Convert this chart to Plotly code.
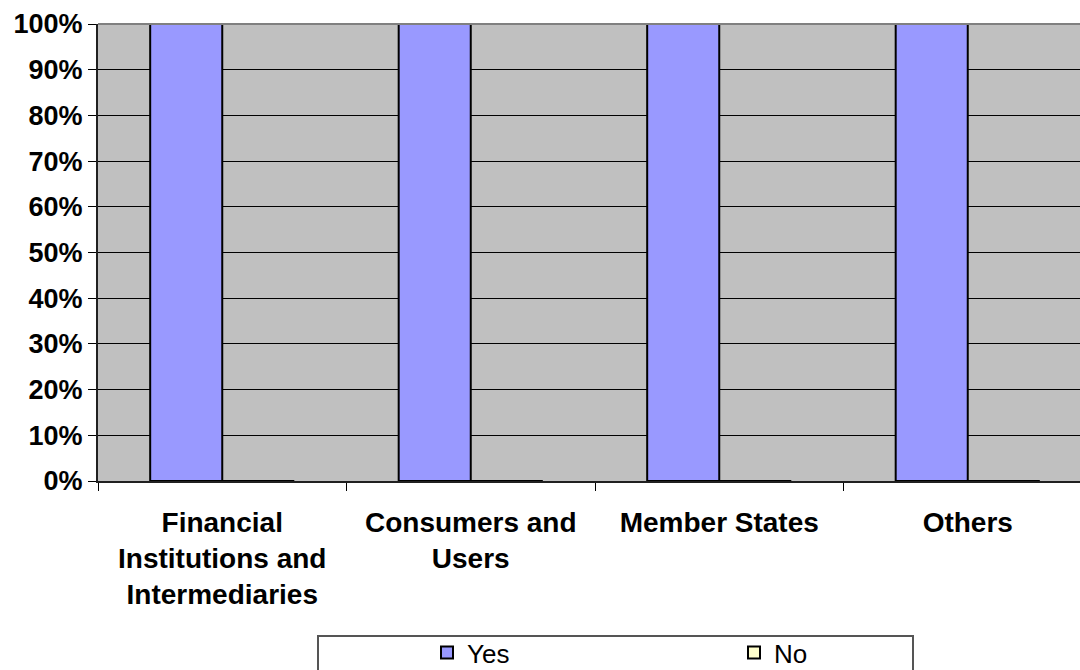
import plotly.graph_objects as go

# Survey responses by respondent group (share of answers)
categories = [
    "Financial<br>Institutions and<br>Intermediaries",
    "Consumers and<br>Users",
    "Member States",
    "Others",
]
yes_share = [1.0, 1.0, 1.0, 1.0]
no_share = [0.0, 0.0, 0.0, 0.0]
y_ticks = [0, 0.1, 0.2, 0.3, 0.4, 0.5, 0.6, 0.7, 0.8, 0.9, 1.0]

W, H = 1080, 670
ML, MR, MT, MB = 98, 0, 24, 189
PW = W - ML - MR
PH = H - MT - MB
CAT_PX = 248.5  # width of one category slot


def px_x(px):
    return (px - ML) / PW


def px_y(py):
    return (H - MB - py) / PH


fig = go.Figure()
fig.add_trace(go.Bar(
    name="Yes", x=categories, y=yes_share,
    marker=dict(color="#9999FF", line=dict(color="#000000", width=2)),
))
fig.add_trace(go.Bar(
    name="No", x=categories, y=no_share,
    marker=dict(color="#FFFFCC", line=dict(color="#000000", width=2)),
))

font_main = "Liberation Sans, Arial, sans-serif"

fig.update_layout(
    width=W, height=H,
    margin=dict(l=ML, r=MR, t=MT, b=MB, pad=0, autoexpand=False),
    paper_bgcolor="#FFFFFF",
    plot_bgcolor="#C0C0C0",
    barmode="group",
    bargap=0.42,
    bargroupgap=0,
    showlegend=True,
    legend=dict(
        orientation="h",
        x=px_x(427), xanchor="left",
        y=px_y(629), yanchor="top",
        font=dict(family=font_main, size=26, color="#000000"),
        entrywidth=262, entrywidthmode="pixels",
        bgcolor="rgba(0,0,0,0)",
        borderwidth=0,
        traceorder="normal",
    ),
    xaxis=dict(
        range=[-0.5, -0.5 + PW / CAT_PX],
        tickson="boundaries",
        ticks="outside", ticklen=8, tickwidth=1, tickcolor="#000000",
        showline=True, linecolor="#202020", linewidth=2,
        mirror=False,
        showgrid=False,
        tickfont=dict(family=font_main, size=28, color="#000000", weight="bold"),
        ticklabelstandoff=15,
    ),
    yaxis=dict(
        range=[0, 1],
        tickvals=y_ticks,
        tickformat=".0%",
        ticks="outside", ticklen=8, tickwidth=1, tickcolor="#000000",
        showline=True, linecolor="#202020", linewidth=2,
        showgrid=True, gridcolor="#000000", gridwidth=1,
        zeroline=False,
        tickfont=dict(family=font_main, size=27, color="#000000", weight="bold"),
    ),
    shapes=[
        # top border of the plot area
        dict(type="line", xref="paper", yref="paper", x0=0, x1=1, y0=1, y1=1,
             line=dict(color="#808080", width=2)),
        # legend frame
        dict(type="rect", xref="paper", yref="paper",
             x0=px_x(318), x1=px_x(913), y0=px_y(636), y1=px_y(680),
             line=dict(color="#555555", width=2), fillcolor="rgba(0,0,0,0)"),
    ],
)

fig.write_html("out.html")
